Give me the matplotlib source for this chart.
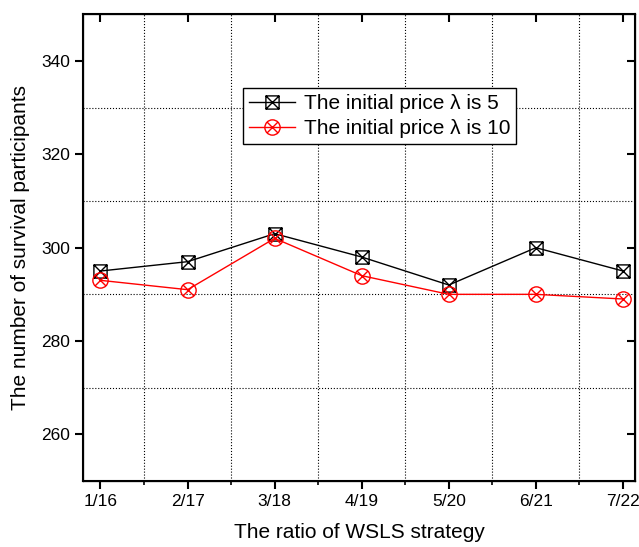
import numpy as np
import matplotlib
matplotlib.use('Agg')
import matplotlib.pyplot as plt
from matplotlib.path import Path
from matplotlib.ticker import FixedLocator

plt.rcParams['font.family'] = ['Liberation Sans', 'DejaVu Sans']

ratios = ['1/16', '2/17', '3/18', '4/19', '5/20', '6/21', '7/22']
price_5 = [295, 297, 303, 298, 292, 300, 295]
price_10 = [293, 291, 302, 294, 290, 290, 289]

# square with a cross and circle with a cross, like the Origin markers
sq = Path([(-1, -1), (1, -1), (1, 1), (-1, 1), (-1, -1)],
          [Path.MOVETO, Path.LINETO, Path.LINETO, Path.LINETO, Path.CLOSEPOLY])
cross = Path([(-1, -1), (1, 1), (-1, 1), (1, -1)],
             [Path.MOVETO, Path.LINETO, Path.MOVETO, Path.LINETO])
k = 0.7071
cross_c = Path([(-k, -k), (k, k), (-k, k), (k, -k)],
               [Path.MOVETO, Path.LINETO, Path.MOVETO, Path.LINETO])
sq_x = Path.make_compound_path(sq, cross)
circ_x = Path.make_compound_path(Path.unit_circle(), cross_c)

x = np.arange(1, len(ratios) + 1)

fig = plt.figure(figsize=(6.39, 5.47), dpi=100)
ax = fig.add_axes([0.130, 0.1207, 0.864, 0.853])

ax.plot(x, price_5, color='black', lw=1, marker=sq_x, ms=9.5, mfc='none',
        mec='black', mew=1, label='The initial price λ is 5')
ax.plot(x, price_10, color='red', lw=1, marker=circ_x, ms=11, mfc='none',
        mec='red', mew=1, label='The initial price λ is 10')

ax.set_xlim(0.80, 7.14)
ax.set_ylim(250, 350)
ax.set_xticks(x)
ax.set_xticklabels(ratios)
ax.xaxis.set_minor_locator(FixedLocator(x[:-1] + 0.5))
ax.yaxis.set_major_locator(FixedLocator([260, 280, 300, 320, 340]))
ax.yaxis.set_minor_locator(FixedLocator([270, 290, 310, 330]))

ax.grid(True, which='minor', ls=':', color='black', lw=0.8)
ax.tick_params(axis='both', which='major', labelsize=12.5, width=1.5, length=6)
ax.tick_params(axis='x', which='minor', length=3, width=1.2)
ax.tick_params(axis='y', which='minor', length=0)
for spine in ax.spines.values():
    spine.set_linewidth(1.5)

# inward ticks on top and right, outward on bottom and left
ax2 = ax.twinx()
ax2.set_ylim(ax.get_ylim())
ax2.yaxis.set_major_locator(FixedLocator([260, 280, 300, 320, 340]))
ax2.tick_params(axis='y', direction='in', length=6, width=1.5, labelright=False)
ax3 = ax.twiny()
ax3.set_xlim(ax.get_xlim())
ax3.set_xticks(x)
ax3.tick_params(axis='x', direction='in', length=6, width=1.5, labeltop=False)

ax.set_xlabel('The ratio of WSLS strategy', fontsize=15, labelpad=10)
ax.set_ylabel('The number of survival participants', fontsize=15, labelpad=8)

leg = ax.legend(loc='upper left', bbox_to_anchor=(0.29, 0.843), fontsize=15,
                fancybox=False, edgecolor='black', framealpha=1,
                handlelength=2.2, borderpad=0.3, labelspacing=0.3,
                handletextpad=0.4, borderaxespad=0)
leg.get_frame().set_linewidth(1)

fig.savefig('out.png', dpi=100)
